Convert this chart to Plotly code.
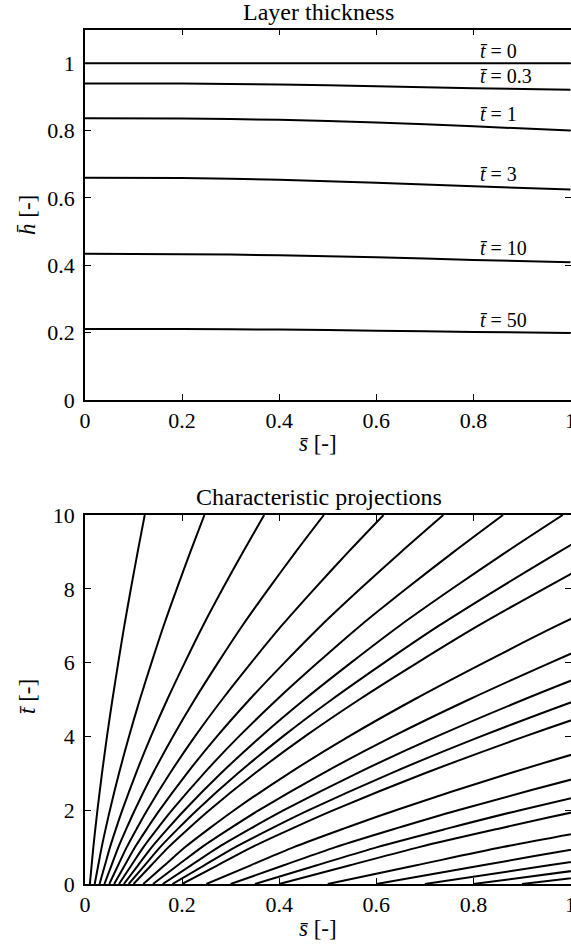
import plotly.graph_objects as go

# ---------------- data ----------------
# Top panel: layer thickness h(s) at several times
s_grid = [0.0, 0.2, 0.4, 0.6, 0.8, 1.0]
t_curve_labels = ["0", "0.3", "1", "3", "10", "50"]
h_t0 = [1.000, 1.000, 1.000, 1.000, 1.000, 1.000]
h_t03 = [0.940, 0.940, 0.937, 0.932, 0.926, 0.921]
h_t1 = [0.837, 0.836, 0.832, 0.824, 0.813, 0.800]
h_t3 = [0.660, 0.659, 0.654, 0.645, 0.635, 0.625]
h_t10 = [0.434, 0.433, 0.430, 0.424, 0.416, 0.409]
h_t50 = [0.211, 0.211, 0.209, 0.206, 0.202, 0.199]
h_curves = [h_t0, h_t03, h_t1, h_t3, h_t10, h_t50]

# Bottom panel: characteristic projections
# starting positions on t = 0
s_start = [0.01, 0.02, 0.03, 0.04, 0.05, 0.06, 0.07, 0.08, 0.09, 0.10,
           0.12, 0.14, 0.16, 0.18, 0.20, 0.25, 0.30, 0.35, 0.40,
           0.50, 0.60, 0.70, 0.80, 0.90]
# stretch factor of a characteristic (s / s_start) read along the time axis
t_knots = [0, 0.5, 1, 1.5, 2, 3, 4, 5, 6, 7, 8, 9, 10]
stretch = [1.0, 1.36, 1.72, 2.13, 2.56, 3.50, 4.53, 5.65, 6.85, 8.10,
           9.45, 10.85, 12.30]

x_ticks = [0, 0.2, 0.4, 0.6, 0.8, 1]

# ---------------- figure ----------------
W, H = 571, 946
FONT = "Liberation Serif"


def px_x(p):
    return p / W


def px_y(p):
    return 1 - p / H


fig = go.Figure()

line_style = dict(color="black", width=2)

for h in h_curves:
    fig.add_trace(go.Scatter(x=s_grid, y=h, mode="lines",
                             line=dict(shape="spline", smoothing=0.8, **line_style),
                             xaxis="x", yaxis="y", showlegend=False, hoverinfo="skip"))

for s0 in s_start:
    xs = [s0 * g for g in stretch]
    fig.add_trace(go.Scatter(x=xs, y=t_knots, mode="lines",
                             line=dict(shape="spline", smoothing=0.8, **line_style),
                             xaxis="x2", yaxis="y2", showlegend=False, hoverinfo="skip"))

axis_common = dict(
    showgrid=False, zeroline=False, showline=True, linecolor="black", linewidth=1.5,
    mirror="ticks", ticks="inside", ticklen=6, tickwidth=1.2, tickcolor="black",
    tickfont=dict(family=FONT, size=22, color="black"), automargin=False,
)

x_dom = [px_x(85), 1.0]
top_dom = [px_y(400), px_y(29.6)]
bot_dom = [px_y(884), px_y(515)]

fig.update_layout(
    template="none",
    width=W, height=H, autosize=False,
    margin=dict(l=0, r=0, t=0, b=0, pad=0),
    paper_bgcolor="white", plot_bgcolor="white",
    font=dict(family=FONT, color="black"),
    xaxis=dict(domain=x_dom, range=[0, 1.001], tickvals=x_ticks, anchor="y",
               ticklabeloverflow="allow", **axis_common),
    yaxis=dict(domain=top_dom, range=[0, 1.1], dtick=0.2, tick0=0, anchor="x",
               ticklabelstandoff=4, **axis_common),
    xaxis2=dict(domain=x_dom, range=[0, 1.001], tickvals=x_ticks, anchor="y2",
                ticklabeloverflow="allow", **axis_common),
    yaxis2=dict(domain=bot_dom, range=[0, 10], dtick=2, tick0=0, anchor="x2",
                ticklabelstandoff=4, **axis_common),
)

annotations = []
# curve labels
for lab, h in zip(t_curve_labels, h_curves):
    annotations.append(dict(
        x=0.81, y=h[4] - 0.003, xref="x", yref="y", xanchor="left", yanchor="bottom",
        text=f"<i>t\u0304</i> = {lab}", showarrow=False, yshift=0,
        font=dict(family=FONT, size=20, color="black")))

# titles and axis labels
text_items = [
    ("Layer thickness", 318, 12, 0, 24),
    ("<i>s\u0304</i> [-]", 318, 443, 0, 23),
    ("<i>h\u0304</i> [-]", 27, 215, -90, 23),
    ("Characteristic projections", 319, 497, 0, 24),
    ("<i>s\u0304</i> [-]", 318, 928, 0, 23),
    ("<i>t\u0304</i> [-]", 27, 697, -90, 23),
]
for txt, x, y, ang, sz in text_items:
    annotations.append(dict(
        x=px_x(x), y=px_y(y), xref="paper", yref="paper", xanchor="center", yanchor="middle",
        text=txt, textangle=ang, showarrow=False,
        font=dict(family=FONT, size=sz, color="black")))

fig.update_layout(annotations=annotations)

fig.write_html("out.html", config={"displayModeBar": False},
               post_script="document.body.style.margin='0';document.body.style.overflow='hidden';")
